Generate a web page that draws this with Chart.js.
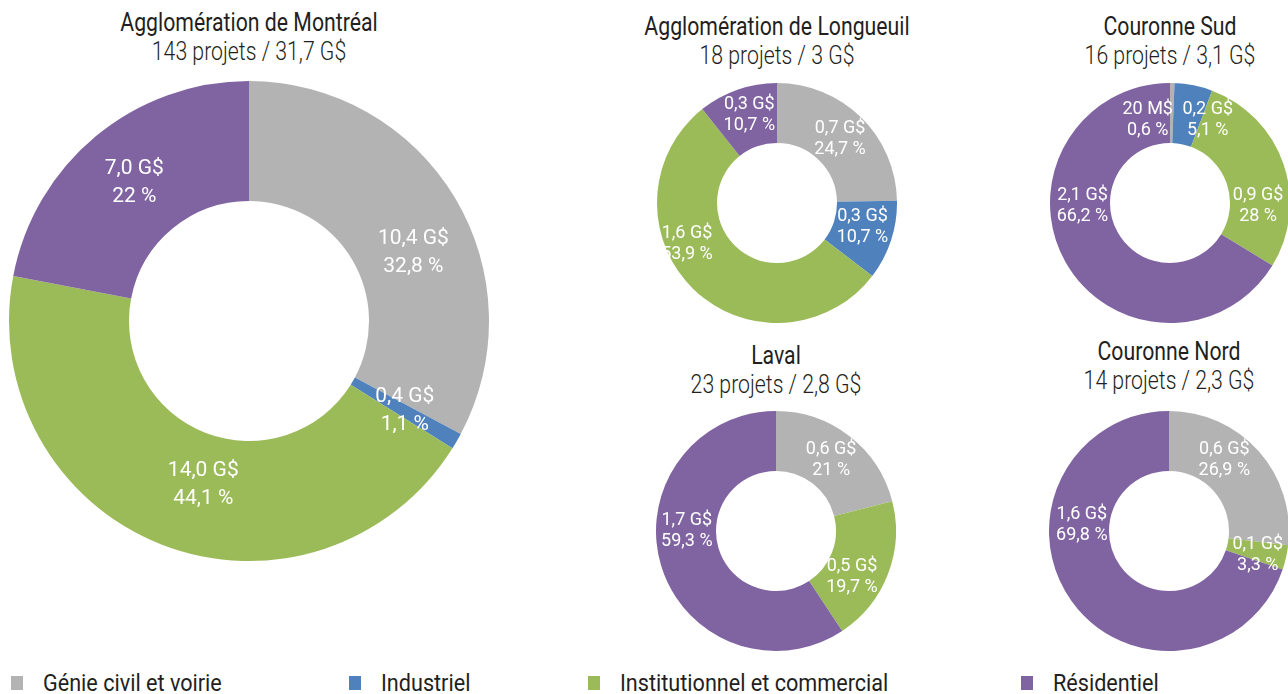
<!DOCTYPE html>
<html>
<head>
<meta charset="utf-8">
<script src="https://cdn.jsdelivr.net/npm/chart.js@4"></script>
<style>
  html, body { margin: 0; padding: 0; background: #fff; }
  body { width: 1288px; height: 694px; position: relative; overflow: hidden; font-family: Roboto, sans-serif; }
  canvas { position: absolute; }
  .title { position: absolute; width: 400px; text-align: center; color: #231f20; font-size: 25px; line-height: 29px; transform: scaleX(0.85); transform-origin: 50% 0; }
  .title .sub { font-weight: 300; }
  .legend-box { position: absolute; top: 676px; width: 12px; height: 14px; }
  .legend-text { position: absolute; top: 669px; font-size: 24px; line-height: 28px; color: #231f20; white-space: nowrap; transform: scaleX(0.9); transform-origin: 0 0; }
</style>
</head>
<body>
<script>
// categories (same order for every ring, clockwise from 12 o'clock)
const categories = ['Génie civil et voirie', 'Industriel', 'Institutionnel et commercial', 'Résidentiel'];
const colors = ['#b2b3b2', '#4f81bd', '#9bbb59', '#8064a2'];

const regions = ['Agglomération de Montréal', 'Agglomération de Longueuil', 'Couronne Sud', 'Laval', 'Couronne Nord'];
const projectCounts = [143, 18, 16, 23, 14];
const totals = ['31,7 G$', '3 G$', '3,1 G$', '2,8 G$', '2,3 G$'];

// share of value (%) per category
const montrealShares = [32.8, 1.1, 44.1, 22];
const longueuilShares = [24.7, 10.7, 53.9, 10.7];
const sudShares = [0.6, 5.1, 28, 66.2];
const lavalShares = [21, 0, 19.7, 59.3];
const nordShares = [26.9, 0, 3.3, 69.8];

// amounts shown in labels
const montrealAmounts = ['10,4 G$', '0,4 G$', '14,0 G$', '7,0 G$'];
const longueuilAmounts = ['0,7 G$', '0,3 G$', '1,6 G$', '0,3 G$'];
const sudAmounts = ['20 M$', '0,2 G$', '0,9 G$', '2,1 G$'];
const lavalAmounts = ['0,6 G$', '', '0,5 G$', '1,7 G$'];
const nordAmounts = ['0,6 G$', '', '0,1 G$', '1,6 G$'];

const shareSets = [montrealShares, longueuilShares, sudShares, lavalShares, nordShares];
const amountSets = [montrealAmounts, longueuilAmounts, sudAmounts, lavalAmounts, nordAmounts];

// layout: centre, radius, title centre y, label font size / half line gap
const layout = [
  { cx: 249, cy: 321, r: 240, ty: 37, fs: 21, gap: 14 },
  { cx: 777, cy: 203, r: 120, ty: 41, fs: 18, gap: 10.5 },
  { cx: 1170, cy: 203, r: 120, ty: 41, fs: 18, gap: 10.5 },
  { cx: 776, cy: 531, r: 120, ty: 370, fs: 18, gap: 10.5 },
  { cx: 1169, cy: 531, r: 120, ty: 366, fs: 18, gap: 10.5 }
];
// label nudges (px) from the slice centroid, to follow the original placement
const nudges = [
  [[10, 24], [0, 0], [20, -4], [0, 0]],
  [[0, 0], [0, -4], [-27, -23], [2, -3]],
  [[-24, 7], [20, 5], [3, 32], [-9, -41]],
  [[0, 0], [0, 0], [-8, 14], [-3, -26]],
  [[-12, -11], [0, 0], [1, 4], [-14, -58]]
];

const fmtPct = v => String(v).replace('.', ',') + ' %';

const sliceLabels = {
  id: 'sliceLabels',
  afterDatasetsDraw(chart, args, opts) {
    const ctx = chart.ctx;
    const meta = chart.getDatasetMeta(0);
    const shares = chart.data.datasets[0].data;
    ctx.save();
    ctx.fillStyle = '#ffffff';
    ctx.font = '400 ' + opts.size + 'px Roboto';
    ctx.textAlign = 'center';
    ctx.textBaseline = 'middle';
    meta.data.forEach((arc, i) => {
      if (!shares[i]) return;
      const p = arc.getProps(['x', 'y', 'startAngle', 'endAngle', 'innerRadius', 'outerRadius'], true);
      const a = (p.startAngle + p.endAngle) / 2;
      const rr = (p.innerRadius + p.outerRadius) / 2;
      const n = opts.nudge[i] || [0, 0];
      const x = p.x + Math.cos(a) * rr + n[0];
      const y = p.y + Math.sin(a) * rr + n[1];
      ctx.fillText(opts.amounts[i], x, y - opts.gap);
      ctx.fillText(fmtPct(shares[i]), x, y + opts.gap);
    });
    ctx.restore();
  }
};

regions.forEach((name, k) => {
  const L = layout[k];
  const t = document.createElement('div');
  t.className = 'title';
  t.style.left = (L.cx - 200) + 'px';
  t.style.top = (L.ty - 29) + 'px';
  t.innerHTML = name + '<br><span class="sub">' + projectCounts[k] + ' projets / ' + totals[k] + '</span>';
  document.body.appendChild(t);

  const c = document.createElement('canvas');
  c.width = 2 * L.r;
  c.height = 2 * L.r;
  c.style.left = (L.cx - L.r) + 'px';
  c.style.top = (L.cy - L.r) + 'px';
  document.body.appendChild(c);

  new Chart(c, {
    type: 'doughnut',
    data: {
      labels: categories,
      datasets: [{
        data: shareSets[k],
        backgroundColor: colors,
        borderWidth: 0
      }]
    },
    options: {
      responsive: false,
      animation: false,
      cutout: '50%',
      layout: { padding: 0 },
      plugins: {
        legend: { display: false },
        tooltip: { enabled: false },
        sliceLabels: { amounts: amountSets[k], nudge: nudges[k], size: L.fs, gap: L.gap }
      }
    },
    plugins: [sliceLabels]
  });
});

// legend
const legendX = [11, 349, 588, 1021];
categories.forEach((cat, i) => {
  const b = document.createElement('div');
  b.className = 'legend-box';
  b.style.left = legendX[i] + 'px';
  b.style.background = colors[i];
  document.body.appendChild(b);
  const d = document.createElement('div');
  d.className = 'legend-text';
  d.style.left = (legendX[i] + 32) + 'px';
  d.textContent = cat;
  document.body.appendChild(d);
});
</script>
</body>
</html>
